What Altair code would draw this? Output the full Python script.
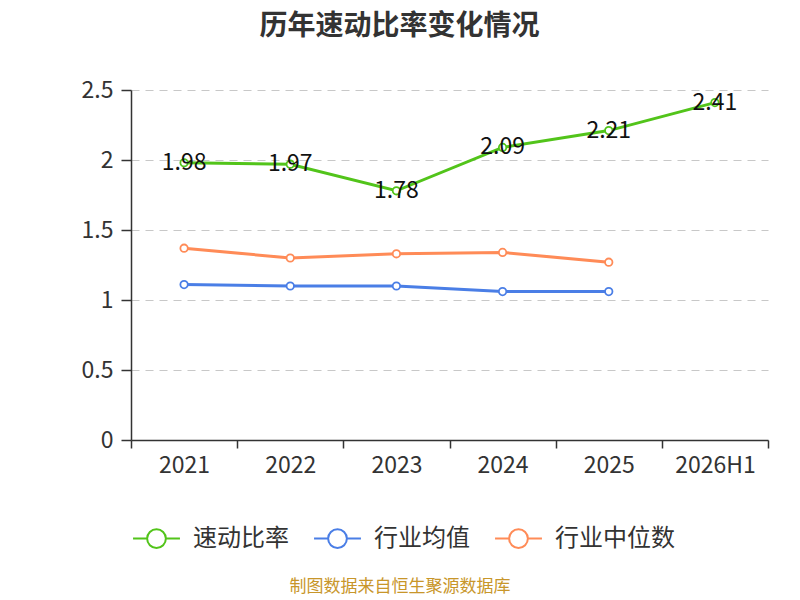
import altair as alt
import pandas as pd

years = ["2021", "2022", "2023", "2024", "2025", "2026H1"]
quick_ratio = [1.98, 1.97, 1.78, 2.09, 2.21, 2.41]
industry_avg_years = ["2021", "2022", "2023", "2024", "2025"]
industry_avg = [1.11, 1.10, 1.10, 1.06, 1.06]
industry_median = [1.37, 1.30, 1.33, 1.34, 1.27]
series_names = ["速动比率", "行业均值", "行业中位数"]
series_colors = ["#52c41a", "#4a7ee6", "#ff8b57"]
title_text = "历年速动比率变化情况"
source_text = "制图数据来自恒生聚源数据库"

rows = []
for y, v in zip(years, quick_ratio):
    rows.append({"year": y, "value": v, "series": series_names[0]})
for y, v in zip(industry_avg_years, industry_avg):
    rows.append({"year": y, "value": v, "series": series_names[1]})
for y, v in zip(industry_avg_years, industry_median):
    rows.append({"year": y, "value": v, "series": series_names[2]})
df = pd.DataFrame(rows)
df_main = df[df["series"] == series_names[0]]

FONT = "Noto Sans CJK SC"
symbol_path = "M-1,0L-0.4,0M0.4,0L1,0M-0.4,0A0.4,0.4,0,1,0,0.4,0A0.4,0.4,0,1,0,-0.4,0"

x_enc = alt.X("year:N", sort=years, scale=alt.Scale(domain=years, paddingInner=0, paddingOuter=0),
              axis=alt.Axis(title=None, labelAngle=0, labelFontSize=23, labelColor="#333333",
                            labelFont=FONT, labelPadding=6, domainColor="#333333", domainWidth=1.5,
                            tickColor="#333333", tickWidth=1.5, tickSize=8, tickBand="extent",
                            grid=False))
y_enc = alt.Y("value:Q", scale=alt.Scale(domain=[0, 2.5], nice=False),
              axis=alt.Axis(title=None, values=[0, 0.5, 1, 1.5, 2, 2.5], format="~g",
                            labelFontSize=23, labelColor="#333333", labelFont=FONT, labelPadding=8,
                            domainColor="#333333", domainWidth=1.5, tickColor="#333333",
                            tickWidth=1.5, tickSize=10, grid=True, gridColor="#c8c8c8",
                            gridDash=[8, 6], gridWidth=1.2))
color_scale = alt.Scale(domain=series_names, range=series_colors)
color_enc = alt.Color("series:N", sort=series_names, scale=color_scale,
                      legend=alt.Legend(title=None, orient="none", direction="horizontal",
                                        legendX=1, legendY=424, symbolType=symbol_path,
                                        symbolSize=2200, symbolStrokeWidth=2,
                                        symbolFillColor="white", labelFontSize=24,
                                        labelColor="#333333", labelFont=FONT, labelOffset=12,
                                        columnPadding=21))

lines = alt.Chart(df).mark_line(strokeWidth=3).encode(x=x_enc, y=y_enc, color=color_enc)
points = alt.Chart(df).mark_point(filled=True, fill="white", size=55, strokeWidth=1.8, opacity=1).encode(
    x=x_enc, y=y_enc,
    stroke=alt.Stroke("series:N", scale=color_scale, legend=None))
labels = alt.Chart(df_main).mark_text(fontSize=23, color="#111111", font=FONT, baseline="middle").encode(
    x=x_enc, y=y_enc, text=alt.Text("value:Q", format=".2f"))
source = alt.Chart(pd.DataFrame({"t": [source_text]})).mark_text(
    fontSize=17, color="#c8962a", font=FONT, baseline="middle", align="center").encode(
    x=alt.value(269), y=alt.value(497), text="t:N")

chart = alt.layer(lines, points, labels, source).properties(
    width=637, height=350,
    autosize=alt.AutoSizeParams(type="none"),
    padding={"left": 123, "top": 82, "right": 24, "bottom": 160},
    background="white",
    title=alt.TitleParams(title_text, fontSize=28, font=FONT, fontWeight="bold", color="#333333",
                          anchor="middle", dx=-50, offset=38),
).configure_view(strokeWidth=0, stroke="transparent")

chart.save("out.html", embed_options={"renderer": "svg", "actions": False})
